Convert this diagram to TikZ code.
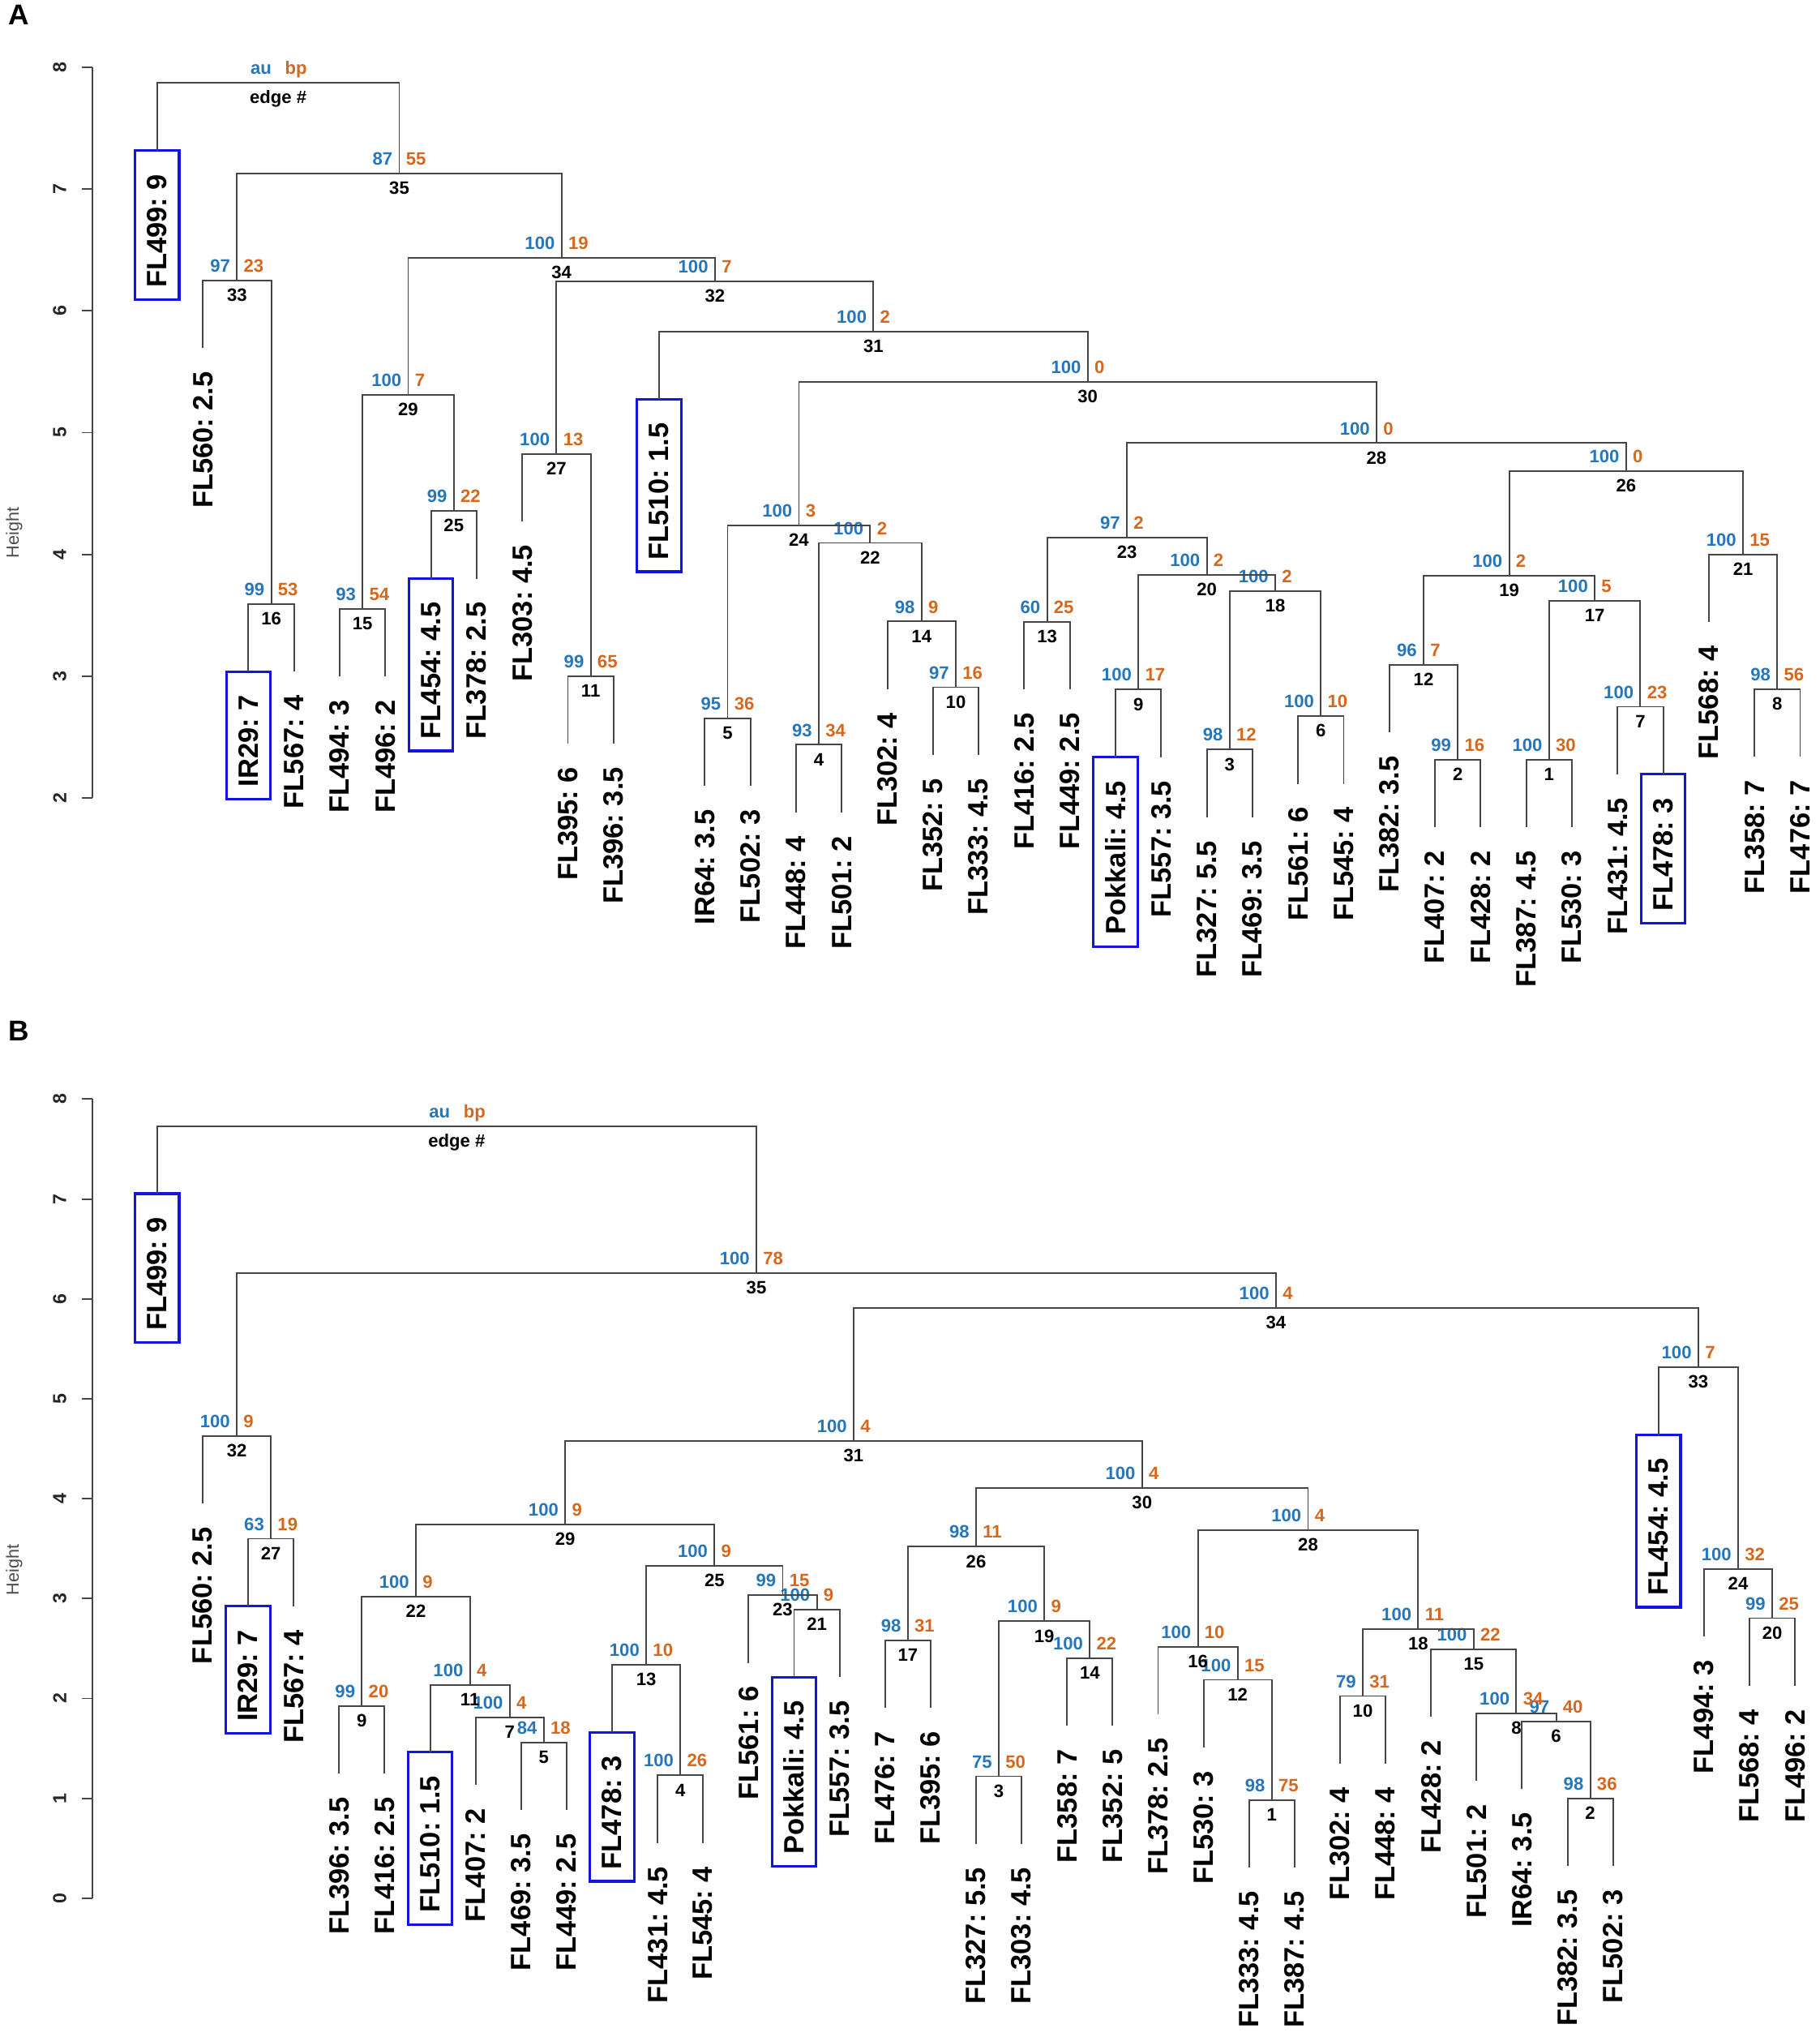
\documentclass[tikz,border=0pt]{standalone}
\usepackage{fontspec}
\setmainfont{Liberation Sans}
\usetikzlibrary{calc}
\frenchspacing
\definecolor{auc}{RGB}{38,118,188}
\definecolor{bpc}{RGB}{214,104,30}
\definecolor{lnc}{RGB}{70,70,70}
\definecolor{bxc}{RGB}{20,20,225}
\newcommand\lsp{35.139}
\newcommand\lff{\fontsize{21.5}{24}\selectfont\bfseries\frenchspacing}
\newcommand\smf{\fontsize{13.8}{15}\selectfont\bfseries}
\tikzset{
  br/.style={draw=lnc, line width=1.2pt},
  boxst/.style={draw=bxc, line width=2pt},
  leaflbl/.style={rotate=90, anchor=east, inner sep=0pt, font=\lff},
  aul/.style={anchor=base east, inner sep=0pt, text=auc, font=\smf},
  bpl/.style={anchor=base west, inner sep=0pt, text=bpc, font=\smf},
  edl/.style={anchor=base, inner sep=0pt, text=black, font=\smf},
  axl/.style={rotate=90, inner sep=0pt, font=\fontsize{14.5}{15}\selectfont\bfseries, text=black!85},
  hl/.style={rotate=90, inner sep=0pt, font=\fontsize{13.5}{14}\selectfont, text=black!70},
  pl/.style={inner sep=0pt, font=\fontsize{22}{24}\selectfont\bfseries}
}
\newcommand\lf[4]{\coordinate (#1) at ({121+\lsp*(#2-1)},#3);
  \node[leaflbl] (#1t) at ({121+\lsp*(#2-1)},#3+18) {#4};}
\newcommand\blf[4]{\lf{#1}{#2}{#3}{#4}\draw[boxst] ($(#1)+(-17,0)$) rectangle ($(#1t.west)+(17,9)$);}
\newcommand\mg[8]{\coordinate (#1) at ({121+\lsp*(#2-1)},#3);
  \draw[br] (#4) |- (#1) -| (#5);
  \node[aul] (#1a) at ($(#1)+(-5,-6.5)$) {#6};
  \node[bpl] (#1b) at ($(#1)+(5,-6.5)$) {#7};
  \node[edl] (#1e) at ($(#1)+(0,16)$) {#8};}
\begin{document}
\begin{tikzpicture}[x=1pt,y=-1pt]
\useasboundingbox (0,0) rectangle (1401,1568);
% ---------------- Panel A ----------------
\node[pl] (pA) at (14.5,11.5) {A};
\coordinate (aAxT) at (71,52);
\coordinate (aAxB) at (71,614);
\draw[br] (aAxT) -- (aAxB);
\foreach \h in {2,...,8}{
  \coordinate (aTk\h) at (71,{52+(8-\h)*93.67});
  \draw[br] (aTk\h) -- ++(-8,0);
  \node[axl] (aTl\h) at (46,{52+(8-\h)*93.67}) {\h};
}
\node[hl] (aH) at (11,410) {Height};
\blf{aFL499}{1}{116}{FL499: 9}
\lf{aFL560}{2}{268}{FL560: 2.5}
\blf{aIR29}{3}{517}{IR29: 7}
\lf{aFL567}{4}{517}{FL567: 4}
\lf{aFL494}{5}{520.5}{FL494: 3}
\lf{aFL496}{6}{520.5}{FL496: 2}
\blf{aFL454}{7}{445.4}{FL454: 4.5}
\lf{aFL378}{8}{445.4}{FL378: 2.5}
\lf{aFL303}{9}{401.3}{FL303: 4.5}
\lf{aFL395}{10}{572.4}{FL395: 6}
\lf{aFL396}{11}{572.4}{FL396: 3.5}
\blf{aFL510}{12}{307.5}{FL510: 1.5}
\lf{aIR64}{13}{605}{IR64: 3.5}
\lf{aFL502}{14}{605}{FL502: 3}
\lf{aFL448}{15}{625.3}{FL448: 4}
\lf{aFL501}{16}{625.3}{FL501: 2}
\lf{aFL302}{17}{530.4}{FL302: 4}
\lf{aFL352}{18}{581}{FL352: 5}
\lf{aFL333}{19}{581}{FL333: 4.5}
\lf{aFL416}{20}{530.6}{FL416: 2.5}
\lf{aFL449}{21}{530.6}{FL449: 2.5}
\blf{aPok}{22}{582.8}{Pokkali: 4.5}
\lf{aFL557}{23}{582.8}{FL557: 3.5}
\lf{aFL327}{24}{629}{FL327: 5.5}
\lf{aFL469}{25}{629}{FL469: 3.5}
\lf{aFL561}{26}{603.3}{FL561: 6}
\lf{aFL545}{27}{603.3}{FL545: 4}
\lf{aFL382}{28}{563.8}{FL382: 3.5}
\lf{aFL407}{29}{636.7}{FL407: 2}
\lf{aFL428}{30}{636.7}{FL428: 2}
\lf{aFL387}{31}{636.7}{FL387: 4.5}
\lf{aFL530}{32}{636.7}{FL530: 3}
\lf{aFL431}{33}{596}{FL431: 4.5}
\blf{aFL478}{34}{596}{FL478: 3}
\lf{aFL568}{35}{479}{FL568: 4}
\lf{aFL358}{36}{582.5}{FL358: 7}
\lf{aFL476}{37}{582.5}{FL476: 7}
\mg{aE1}{31.5}{584.7}{aFL387}{aFL530}{100}{30}{1}
\mg{aE2}{29.5}{584.7}{aFL407}{aFL428}{99}{16}{2}
\mg{aE3}{24.5}{577}{aFL327}{aFL469}{98}{12}{3}
\mg{aE4}{15.5}{573.3}{aFL448}{aFL501}{93}{34}{4}
\mg{aE5}{13.5}{553}{aIR64}{aFL502}{95}{36}{5}
\mg{aE6}{26.5}{551.3}{aFL561}{aFL545}{100}{10}{6}
\mg{aE7}{33.5}{544}{aFL431}{aFL478}{100}{23}{7}
\mg{aE8}{36.5}{530.5}{aFL358}{aFL476}{98}{56}{8}
\mg{aE9}{22.5}{530.8}{aPok}{aFL557}{100}{17}{9}
\mg{aE10}{18.5}{529}{aFL352}{aFL333}{97}{16}{10}
\mg{aE11}{10.5}{520.4}{aFL395}{aFL396}{99}{65}{11}
\mg{aE12}{28.75}{511.8}{aFL382}{aE2}{96}{7}{12}
\mg{aE13}{20.5}{478.6}{aFL416}{aFL449}{60}{25}{13}
\mg{aE14}{17.75}{478.4}{aFL302}{aE10}{98}{9}{14}
\mg{aE15}{5.5}{468.5}{aFL494}{aFL496}{93}{54}{15}
\mg{aE16}{3.5}{465}{aIR29}{aFL567}{99}{53}{16}
\mg{aE17}{32.5}{462.3}{aE1}{aE7}{100}{5}{17}
\mg{aE18}{25.5}{454.8}{aE3}{aE6}{100}{2}{18}
\mg{aE19}{30.625}{443}{aE12}{aE17}{100}{2}{19}
\mg{aE20}{24}{442.5}{aE9}{aE18}{100}{2}{20}
\mg{aE21}{35.75}{426.8}{aFL568}{aE8}{100}{15}{21}
\mg{aE22}{16.625}{417.9}{aE4}{aE14}{100}{2}{22}
\mg{aE23}{22.25}{414}{aE13}{aE20}{97}{2}{23}
\mg{aE24}{15.0625}{404.6}{aE5}{aE22}{100}{3}{24}
\mg{aE25}{7.5}{393.4}{aFL454}{aFL378}{99}{22}{25}
\mg{aE26}{33.1875}{362.5}{aE19}{aE21}{100}{0}{26}
\mg{aE27}{9.75}{349.3}{aFL303}{aE11}{100}{13}{27}
\mg{aE28}{27.71875}{341.1}{aE23}{aE26}{100}{0}{28}
\mg{aE29}{6.5}{303.8}{aE15}{aE25}{100}{7}{29}
\mg{aE30}{21.390625}{294}{aE24}{aE28}{100}{0}{30}
\mg{aE31}{16.6953}{255.5}{aFL510}{aE30}{100}{2}{31}
\mg{aE32}{13.2227}{216.8}{aE27}{aE31}{100}{7}{32}
\mg{aE33}{2.75}{215.8}{aFL560}{aE16}{97}{23}{33}
\mg{aE34}{9.8613}{198.5}{aE29}{aE32}{100}{19}{34}
\mg{aE35}{6.3057}{133.4}{aE33}{aE34}{87}{55}{35}
\mg{aRoot}{3.6528}{63.7}{aFL499}{aE35}{au}{bp}{edge \#}
% ---------------- Panel B ----------------
\renewcommand\lsp{35.03}
\node[pl] (pB) at (14.5,793.5) {B};
\coordinate (bAxT) at (71,846);
\coordinate (bAxB) at (71,1461.2);
\draw[br] (bAxT) -- (bAxB);
\foreach \h in {0,...,8}{
  \coordinate (bTk\h) at (71,{846+(8-\h)*76.9});
  \draw[br] (bTk\h) -- ++(-8,0);
  \node[axl] (bTl\h) at (46,{846+(8-\h)*76.9}) {\h};
}
\node[hl] (bH) at (11,1208.5) {Height};
\blf{bFL499}{1}{918.8}{FL499: 9}
\lf{bFL560}{2}{1157.5}{FL560: 2.5}
\blf{bIR29}{3}{1236.4}{IR29: 7}
\lf{bFL567}{4}{1236.4}{FL567: 4}
\lf{bFL396}{5}{1365.4}{FL396: 3.5}
\lf{bFL416}{6}{1365.4}{FL416: 2.5}
\blf{bFL510}{7}{1348.8}{FL510: 1.5}
\lf{bFL407}{8}{1374}{FL407: 2}
\lf{bFL469}{9}{1393.5}{FL469: 3.5}
\lf{bFL449}{10}{1393.5}{FL449: 2.5}
\blf{bFL478}{11}{1333.5}{FL478: 3}
\lf{bFL431}{12}{1418.6}{FL431: 4.5}
\lf{bFL545}{13}{1418.6}{FL545: 4}
\lf{bFL561}{14}{1280}{FL561: 6}
\blf{bPok}{15}{1291}{Pokkali: 4.5}
\lf{bFL557}{16}{1291}{FL557: 3.5}
\lf{bFL476}{17}{1314.5}{FL476: 7}
\lf{bFL395}{18}{1314.5}{FL395: 6}
\lf{bFL327}{19}{1419.3}{FL327: 5.5}
\lf{bFL303}{20}{1419.3}{FL303: 4.5}
\lf{bFL358}{21}{1328.5}{FL358: 7}
\lf{bFL352}{22}{1328.5}{FL352: 5}
\lf{bFL378}{23}{1319.6}{FL378: 2.5}
\lf{bFL530}{24}{1345}{FL530: 3}
\lf{bFL333}{25}{1437.5}{FL333: 4.5}
\lf{bFL387}{26}{1437.5}{FL387: 4.5}
\lf{bFL302}{27}{1357.5}{FL302: 4}
\lf{bFL448}{28}{1357.5}{FL448: 4}
\lf{bFL428}{29}{1321.4}{FL428: 2}
\lf{bFL501}{30}{1371}{FL501: 2}
\lf{bIR64}{31}{1377}{IR64: 3.5}
\lf{bFL382}{32}{1436.5}{FL382: 3.5}
\lf{bFL502}{33}{1436.5}{FL502: 3}
\blf{bFL454}{34}{1104.6}{FL454: 4.5}
\lf{bFL494}{35}{1259.8}{FL494: 3}
\lf{bFL568}{36}{1297.6}{FL568: 4}
\lf{bFL496}{37}{1297.6}{FL496: 2}
\mg{bE1}{25.5}{1385.5}{bFL333}{bFL387}{98}{75}{1}
\mg{bE2}{32.5}{1384.5}{bFL382}{bFL502}{98}{36}{2}
\mg{bE3}{19.5}{1367.3}{bFL327}{bFL303}{75}{50}{3}
\mg{bE4}{12.5}{1366.6}{bFL431}{bFL545}{100}{26}{4}
\mg{bE5}{9.5}{1341.5}{bFL469}{bFL449}{84}{18}{5}
\mg{bE6}{31.75}{1325}{bIR64}{bE2}{97}{40}{6}
\mg{bE7}{8.75}{1322}{bFL407}{bE5}{100}{4}{7}
\mg{bE8}{30.875}{1319}{bFL501}{bE6}{100}{34}{8}
\mg{bE9}{5.5}{1313.4}{bFL396}{bFL416}{99}{20}{9}
\mg{bE10}{27.5}{1305.5}{bFL302}{bFL448}{79}{31}{10}
\mg{bE11}{7.875}{1296.8}{bFL510}{bE7}{100}{4}{11}
\mg{bE12}{24.75}{1293}{bFL530}{bE1}{100}{15}{12}
\mg{bE13}{11.75}{1281.5}{bFL478}{bE4}{100}{10}{13}
\mg{bE14}{21.5}{1276.5}{bFL358}{bFL352}{100}{22}{14}
\mg{bE15}{29.9375}{1269.4}{bFL428}{bE8}{100}{22}{15}
\mg{bE16}{23.875}{1267.6}{bFL378}{bE12}{100}{10}{16}
\mg{bE17}{17.5}{1262.5}{bFL476}{bFL395}{98}{31}{17}
\mg{bE18}{28.71875}{1254}{bE10}{bE15}{100}{11}{18}
\mg{bE19}{20.5}{1248}{bE3}{bE14}{100}{9}{19}
\mg{bE20}{36.5}{1245.6}{bFL568}{bFL496}{99}{25}{20}
\mg{bE21}{15.5}{1239}{bPok}{bFL557}{100}{9}{21}
\mg{bE22}{6.6875}{1229}{bE9}{bE11}{100}{9}{22}
\mg{bE23}{14.75}{1228}{bFL561}{bE21}{99}{15}{23}
\mg{bE24}{35.75}{1207.8}{bFL494}{bE20}{100}{32}{24}
\mg{bE25}{13.25}{1205.3}{bE13}{bE23}{100}{9}{25}
\mg{bE26}{19}{1190.6}{bE17}{bE19}{98}{11}{26}
\mg{bE27}{3.5}{1184.4}{bIR29}{bFL567}{63}{19}{27}
\mg{bE28}{26.296875}{1178}{bE16}{bE18}{100}{4}{28}
\mg{bE29}{9.96875}{1173.4}{bE22}{bE25}{100}{9}{29}
\mg{bE30}{22.6484}{1145.5}{bE26}{bE28}{100}{4}{30}
\mg{bE31}{16.3086}{1109}{bE29}{bE30}{100}{4}{31}
\mg{bE32}{2.75}{1105.5}{bFL560}{bE27}{100}{9}{32}
\mg{bE33}{34.875}{1052.6}{bFL454}{bE24}{100}{7}{33}
\mg{bE34}{25.5918}{1007}{bE31}{bE33}{100}{4}{34}
\mg{bE35}{14.1709}{979.9}{bE32}{bE34}{100}{78}{35}
\mg{bRoot}{7.5854}{866.8}{bFL499}{bE35}{au}{bp}{edge \#}
\end{tikzpicture}
\end{document}
